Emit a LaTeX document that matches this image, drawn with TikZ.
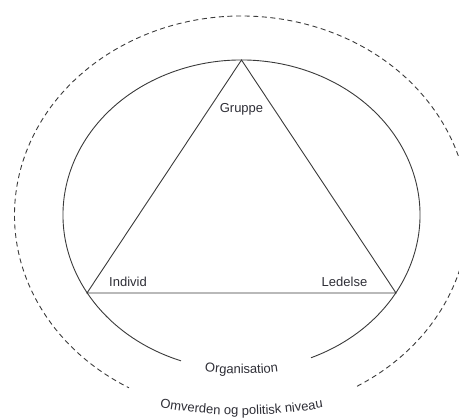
\documentclass[tikz,border=0pt]{standalone}
\usepackage{fontspec}
\setmainfont{Liberation Sans}
\usetikzlibrary{calc,decorations.text}
\definecolor{linegrey}{HTML}{3A3A3A}
\definecolor{textgrey}{HTML}{2E2E36}
\tikzset{
  solidline/.style={draw=linegrey, line width=0.9pt},
  dashline/.style={draw=linegrey, line width=0.9pt, dash pattern=on 5pt off 3.6pt},
  lbl/.style={text=textgrey, font=\fontsize{13}{15}\selectfont, inner sep=0pt},
}
\begin{document}
\begin{tikzpicture}[x=1pt,y=1pt]
\useasboundingbox (0,0) rectangle (459,419);
\clip (0,0) rectangle (459,419);
% centre of both ellipses
\coordinate (C) at (241.5,204);
% outer dashed ellipse (open at the bottom)
\draw[dashline] ($(C)+(300.6:227 and 199)$) arc[start angle=300.6, end angle=600.3, x radius=227, y radius=199];
% inner ellipse (open at the bottom)
\draw[solidline] ($(C)+(292.9:178.5 and 155)$) arc[start angle=292.9, end angle=610.2, x radius=178.5, y radius=155];
% triangle
\coordinate (top) at (241.5,359);
\coordinate (left) at (87,126);
\coordinate (right) at (396,126);
\draw[solidline, line join=miter] (top) -- (left) -- (right) -- cycle;
% labels
\node[lbl] (gruppe) at (241.5,310) {Gruppe};
\node[lbl] (individ) at (128,137) {Individ};
\node[lbl] (ledelse) at (344.5,137) {Ledelse};
% curved labels
\path[decorate, decoration={text along path, text align=center, text color=textgrey,
  text={|\fontsize{13}{15}\selectfont|Organisation}}]
  ($(241.5,345)+(250:300)$) arc[start angle=250, end angle=290, radius=300];
\path[decorate, decoration={text along path, text align=center, text color=textgrey,
  text={|\fontsize{13}{15}\selectfont|Omverden og politisk niveau}}]
  ($(241.5,461)+(250:457)$) arc[start angle=250, end angle=290, radius=457];
\end{tikzpicture}
\end{document}
